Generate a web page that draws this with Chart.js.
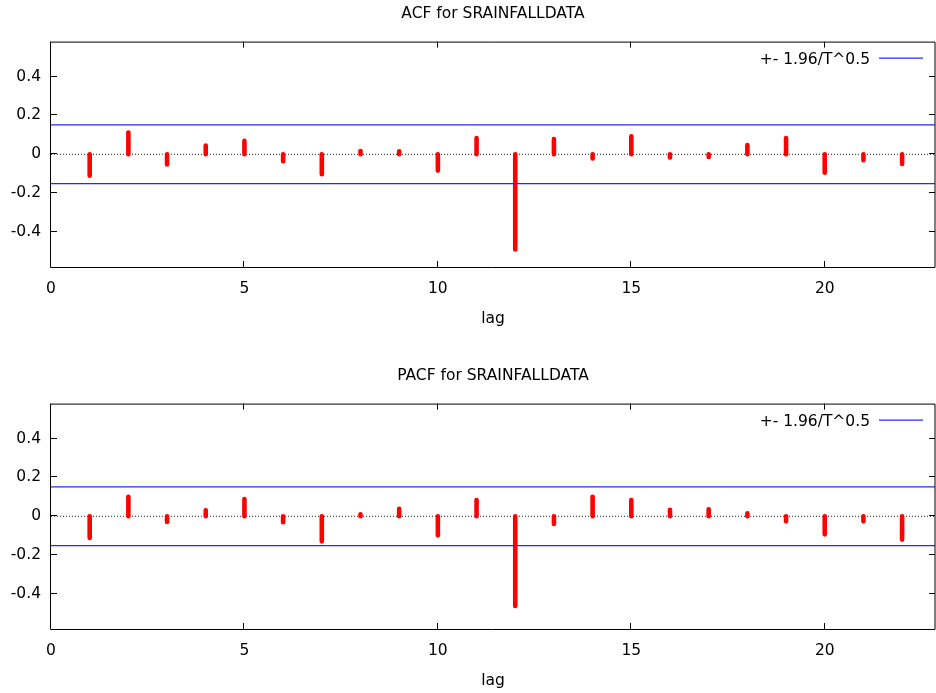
<!DOCTYPE html>
<html>
<head>
<meta charset="utf-8">
<script src="https://cdn.jsdelivr.net/npm/chart.js@4.4.1/dist/chart.umd.min.js"></script>
<style>
  html, body { margin: 0; padding: 0; background: #fff; }
  body { width: 936px; height: 693px; position: relative; overflow: hidden; }
  canvas { position: absolute; left: 0; }
  #acf-chart { top: 0; }
  #pacf-chart { top: 362px; }
</style>
</head>
<body>
<canvas id="acf-chart" width="936" height="331"></canvas>
<canvas id="pacf-chart" width="936" height="331"></canvas>
<script>
const lags = [1, 2, 3, 4, 5, 6, 7, 8, 9, 10, 11, 12, 13, 14, 15, 16, 17, 18, 19, 20, 21, 22];
const acfValues = [-0.110, 0.112, -0.052, 0.045, 0.069, -0.036, -0.103, 0.017, 0.016, -0.084, 0.084,
    -0.490, 0.078, -0.022, 0.093, -0.016, -0.014, 0.047, 0.084, -0.095, -0.031, -0.050];
const pacfValues = [-0.112, 0.100, -0.029, 0.031, 0.089, -0.031, -0.129, 0.010, 0.038, -0.098, 0.084,
    -0.461, -0.040, 0.100, 0.083, 0.034, 0.036, 0.015, -0.026, -0.093, -0.026, -0.120];
const bandLevel = 0.151;   // 1.96 / sqrt(T)
const bandLabel = '+- 1.96/T^0.5';
const xTicks = [0, 5, 10, 15, 20];
const yTicks = [-0.4, -0.2, 0, 0.2, 0.4];
const xMin = 0, xMax = 22.85;
const yMin = -0.58, yMax = 0.58;

Chart.defaults.font.family = '"DejaVu Sans", Verdana, sans-serif';
Chart.defaults.font.size = 15.5;
Chart.defaults.color = '#000';

// box round the plot with inward ticks on all four sides
const framePlugin = {
    id: 'frame',
    afterDatasetsDraw(chart) {
        const { ctx, chartArea: a, scales: { x, y } } = chart;
        ctx.save();
        ctx.strokeStyle = '#000';
        ctx.lineWidth = 1;
        ctx.beginPath();
        ctx.rect(a.left - 0.5, a.top + 0.5, a.right - a.left + 0.5, a.bottom - a.top);
        x.ticks.forEach(t => {
            const px = Math.round(x.getPixelForValue(t.value)) - 0.5;
            ctx.moveTo(px, a.top); ctx.lineTo(px, a.top + 6);
            ctx.moveTo(px, a.bottom); ctx.lineTo(px, a.bottom - 6);
        });
        y.ticks.forEach(t => {
            const py = Math.round(y.getPixelForValue(t.value)) - 0.5;
            ctx.moveTo(a.left, py); ctx.lineTo(a.left + 6, py);
            ctx.moveTo(a.right, py); ctx.lineTo(a.right - 6, py);
        });
        ctx.stroke();
        ctx.restore();
    }
};

// gnuplot style key: text first, then the line sample, inside the box
const keyPlugin = {
    id: 'insideKey',
    afterDraw(chart) {
        const band = chart.data.datasets.find(d => d.inKey);
        if (!band) return;
        const { ctx, chartArea: a } = chart;
        ctx.save();
        ctx.font = '15.5px "DejaVu Sans", Verdana, sans-serif';
        ctx.fillStyle = '#000';
        ctx.textAlign = 'right';
        ctx.textBaseline = 'middle';
        ctx.fillText(band.label, a.right - 65, a.top + 18);
        ctx.strokeStyle = band.borderColor;
        ctx.lineWidth = band.borderWidth;
        ctx.beginPath();
        ctx.moveTo(a.right - 56, a.top + 16.5);
        ctx.lineTo(a.right - 12, a.top + 16.5);
        ctx.stroke();
        ctx.restore();
    }
};

function impulsePoints(values) {
    const pts = [];
    values.forEach((v, i) => {
        pts.push({ x: lags[i], y: 0 }, { x: lags[i], y: v }, { x: lags[i], y: null });
    });
    return pts;
}

function makeChart(canvasId, titleText, values) {
    const ctx = document.getElementById(canvasId).getContext('2d');
    return new Chart(ctx, {
        type: 'line',
        data: {
            datasets: [
                {
                    label: bandLabel,
                    inKey: true,
                    data: [{ x: xMin, y: bandLevel }, { x: xMax, y: bandLevel }],
                    borderColor: '#2a2af0',
                    borderWidth: 1.3,
                    pointRadius: 0,
                    order: 0
                },
                {
                    label: '-' + bandLabel,
                    data: [{ x: xMin, y: -bandLevel }, { x: xMax, y: -bandLevel }],
                    borderColor: '#2a2af0',
                    borderWidth: 1.3,
                    pointRadius: 0,
                    order: 0
                },
                {
                    label: titleText,
                    data: impulsePoints(values),
                    borderColor: '#ff0000',
                    borderWidth: 4.6,
                    borderCapStyle: 'round',
                    pointRadius: 0,
                    spanGaps: false,
                    order: 1
                },
                {
                    label: 'zero',
                    data: [{ x: xMin, y: 0 }, { x: xMax, y: 0 }],
                    borderColor: '#222',
                    borderWidth: 1,
                    borderDash: [1, 2],
                    pointRadius: 0,
                    order: 2
                }
            ]
        },
        options: {
            responsive: false,
            animation: false,
            parsing: false,
            layout: { padding: { left: 0, right: 1, top: 0, bottom: 0 } },
            scales: {
                x: {
                    type: 'linear',
                    min: xMin,
                    max: xMax,
                    afterBuildTicks: s => { s.ticks = xTicks.map(v => ({ value: v })); },
                    afterFit: s => { s.height = 64; },
                    grid: { display: false, drawTicks: false },
                    border: { display: false },
                    ticks: { padding: 13, maxRotation: 0, autoSkip: false, callback: v => String(v) },
                    title: { display: true, text: 'lag', padding: { top: 0, bottom: 3 } }
                },
                y: {
                    type: 'linear',
                    min: yMin,
                    max: yMax,
                    afterBuildTicks: s => { s.ticks = yTicks.map(v => ({ value: v })); },
                    afterFit: s => { s.width = 51; },
                    grid: { display: false, drawTicks: false },
                    border: { display: false },
                    ticks: { padding: 10, callback: v => String(v) }
                }
            },
            plugins: {
                legend: { display: false },
                tooltip: { enabled: false },
                title: {
                    display: true,
                    text: titleText,
                    fullSize: false,
                    padding: { top: 5, bottom: 18 },
                    font: { size: 15.5, weight: 'normal' },
                    color: '#000'
                }
            }
        },
        plugins: [framePlugin, keyPlugin]
    });
}

makeChart('acf-chart', 'ACF for SRAINFALLDATA', acfValues);
makeChart('pacf-chart', 'PACF for SRAINFALLDATA', pacfValues);
</script>
</body>
</html>
